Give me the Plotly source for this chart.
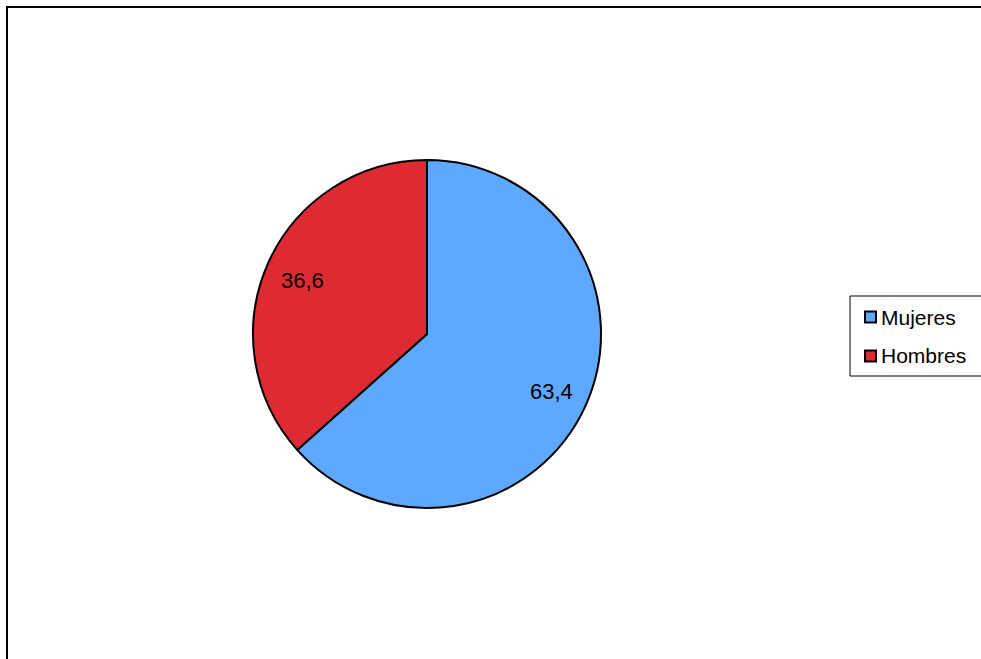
import math
import plotly.graph_objects as go

labels = ["Mujeres", "Hombres"]
values = [63.4, 36.6]
text_labels = ["63,4", "36,6"]
colors = ["#5FA8FF", "#DE2A33"]

W, H = 981, 659
cx, cy, r = 427, 334, 174
FONT = "Liberation Sans, Arial, sans-serif"

fig = go.Figure(go.Pie(
    labels=labels, values=values,
    textinfo="none",
    marker=dict(colors=colors, line=dict(color="black", width=2)),
    sort=False, direction="clockwise", rotation=0,
    domain=dict(x=[(cx - r) / W, (cx + r) / W], y=[1 - (cy + r) / H, 1 - (cy - r) / H]),
    hoverinfo="label+percent",
    showlegend=False,
))

annotations = []
total = sum(values)
start = 0.0
for v, t in zip(values, text_labels):
    mid = (start + v / 2) / total * 2 * math.pi
    start += v
    px = cx + 0.785 * r * math.sin(mid)
    py = cy - 0.785 * r * math.cos(mid) + 2
    annotations.append(dict(
        x=px / W, y=1 - py / H, xref="paper", yref="paper",
        text=t, showarrow=False, xanchor="center", yanchor="middle",
        font=dict(family=FONT, size=22, color="black"),
    ))

# manual legend (box, swatches, labels)
shapes = [dict(type="rect", xref="paper", yref="paper",
               x0=7 / W, x1=1.02, y0=-0.02, y1=1 - 7 / H,
               line=dict(color="black", width=2), fillcolor="rgba(0,0,0,0)")]
shapes.append(dict(type="rect", xref="paper", yref="paper",
                   x0=850 / W, x1=1.02, y0=1 - 376 / H, y1=1 - 296 / H,
                   line=dict(color="black", width=1), fillcolor="white", layer="below"))
item_y = [317, 356]
for lab, col, yy in zip(labels, colors, item_y):
    shapes.append(dict(type="rect", xref="paper", yref="paper",
                       x0=865 / W, x1=876 / W, y0=1 - (yy + 5.5) / H, y1=1 - (yy - 5.5) / H,
                       line=dict(color="black", width=2), fillcolor=col))
    annotations.append(dict(
        x=879 / W, y=1 - yy / H, xref="paper", yref="paper",
        text=lab, showarrow=False, xanchor="left", yanchor="middle",
        font=dict(family=FONT, size=21, color="black"),
    ))

fig.update_layout(
    width=W, height=H,
    margin=dict(l=0, r=0, t=0, b=0),
    paper_bgcolor="white", plot_bgcolor="white",
    showlegend=False,
    shapes=shapes,
    annotations=annotations,
)

fig.write_html("out.html", config={"displayModeBar": False},
               post_script="document.body.style.margin='0';document.body.style.overflow='hidden';")
